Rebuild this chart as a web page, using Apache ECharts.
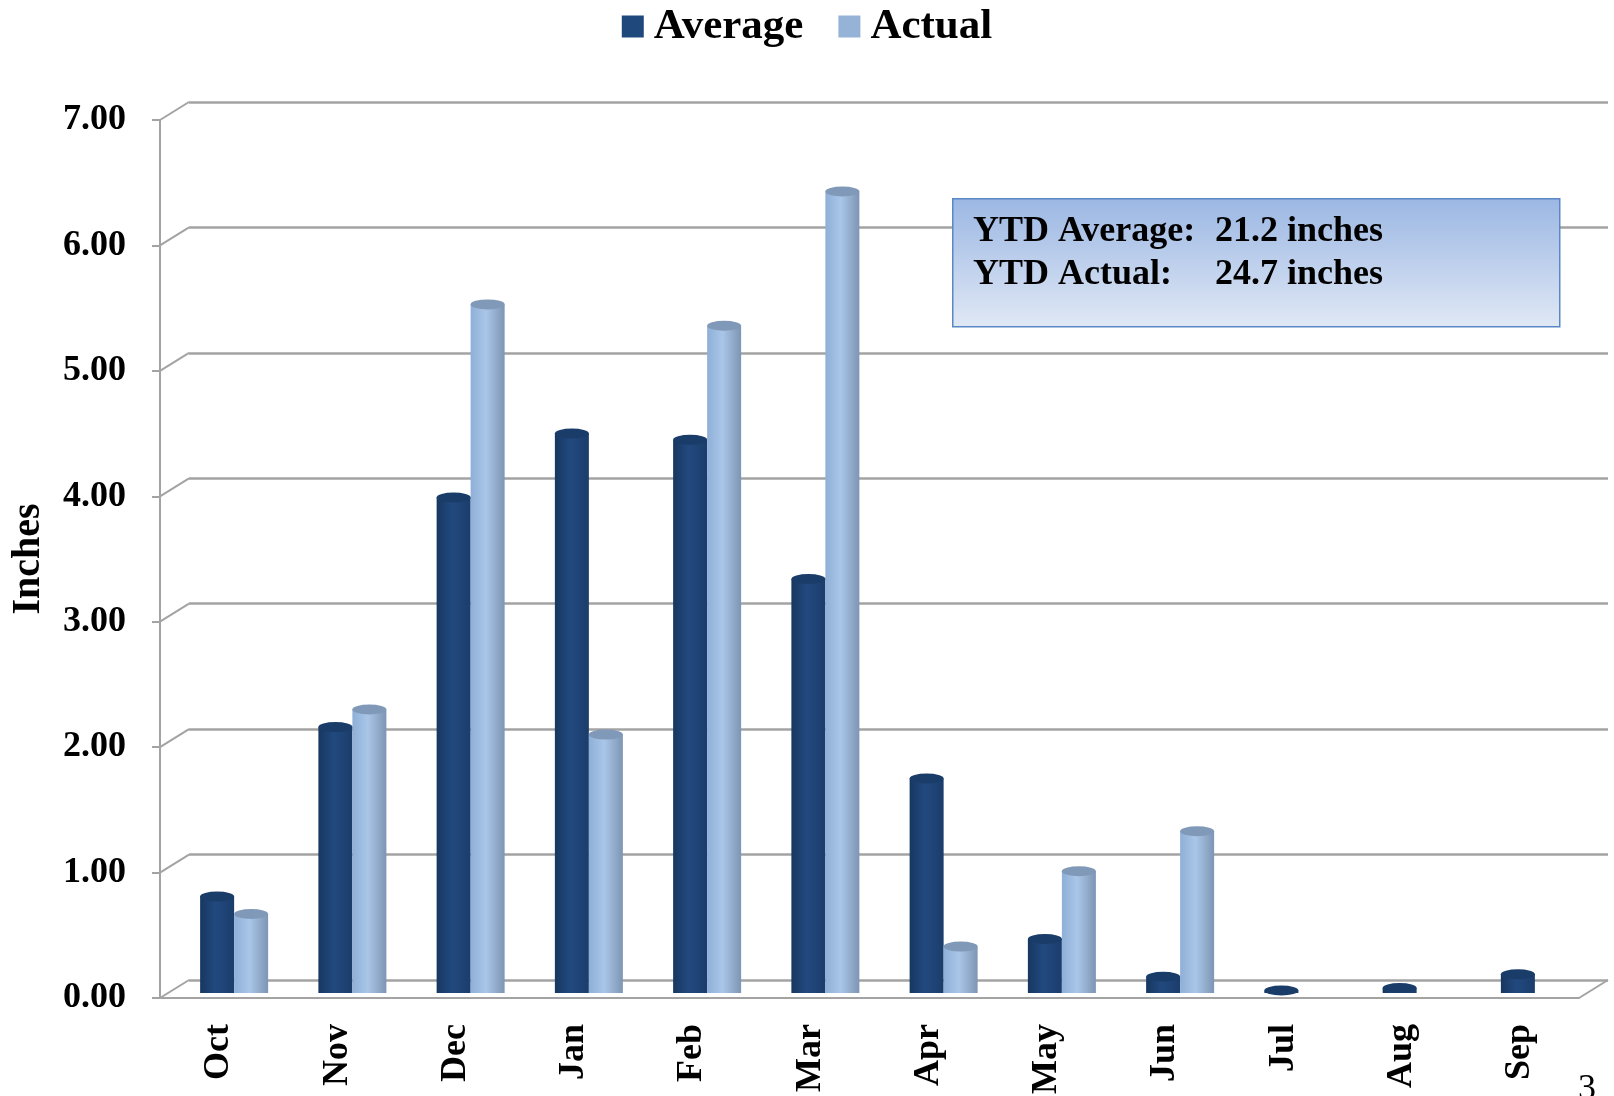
<!DOCTYPE html>
<html>
<head>
<meta charset="utf-8">
<title>Precipitation</title>
<script src="https://cdn.jsdelivr.net/npm/echarts@6/dist/echarts.min.js"></script>
<style>
  html, body { margin: 0; padding: 0; background: #fff; }
  #chart { width: 1614px; height: 1096px; }
</style>
</head>
<body>
<div id="chart"></div>
<script>
// data
var months = ["Oct", "Nov", "Dec", "Jan", "Feb", "Mar", "Apr", "May", "Jun", "Jul", "Aug", "Sep"];
var average = [0.77, 2.12, 3.95, 4.46, 4.41, 3.30, 1.71, 0.43, 0.13, 0.02, 0.04, 0.15];
var actual = [0.63, 2.26, 5.49, 2.06, 5.32, 6.39, 0.37, 0.97, 1.29, null, null, null];
var yTicks = [0, 1, 2, 3, 4, 5, 6, 7];

var SERIF = "'Liberation Serif', 'Times New Roman', serif";
var GRID_GRAY = "#a3a3a3";
// depth offset of the back wall
var DX = 29, DY = 18;

var chart = echarts.init(document.getElementById("chart"));

function barGrad(c1, c2, c3) {
  return new echarts.graphic.LinearGradient(0, 0, 1, 0, [
    { offset: 0, color: c1 },
    { offset: 0.45, color: c2 },
    { offset: 1, color: c3 }
  ]);
}

chart.setOption({
  animation: false,
  textStyle: { fontFamily: SERIF },
  legend: {
    top: 0,
    left: "center",
    itemWidth: 22,
    itemHeight: 22,
    itemGap: 35,
    icon: "rect",
    textStyle: { fontFamily: SERIF, fontWeight: "bold", fontSize: 43, color: "#000", padding: [0, 0, 0, 5] },
    data: [
      { name: "Average", itemStyle: { color: "#1f497d" } },
      { name: "Actual", itemStyle: { color: "#95b3d7" } }
    ]
  },
  grid: [
    // front (axes)
    { left: 160, right: 35, top: 120, bottom: 98, outerBoundsMode: "none" },
    // back wall (gridlines)
    { left: 160 + DX, right: 35 - DX, top: 120 - DY, bottom: 98 + DY, outerBoundsMode: "none" },
    // bars, sitting mid depth
    { left: 175, right: 20, top: 115, bottom: 103, outerBoundsMode: "none" }
  ],
  xAxis: [
    {
      gridIndex: 0,
      type: "category",
      data: months,
      axisLine: { lineStyle: { color: GRID_GRAY, width: 2 } },
      axisTick: { length: 12, lineStyle: { color: GRID_GRAY, width: 2 } },
      axisLabel: {
        rotate: 90,
        margin: 26,
        color: "#000",
        fontFamily: SERIF,
        fontWeight: "bold",
        fontSize: 36
      }
    },
    { gridIndex: 1, type: "value", min: 0, max: 1, show: false },
    { gridIndex: 2, type: "category", data: months, show: false }
  ],
  yAxis: [
    {
      gridIndex: 0,
      type: "value",
      min: 0,
      max: 7,
      interval: 1,
      name: "Inches",
      nameLocation: "middle",
      nameRotate: 90,
      nameGap: 111,
      nameTextStyle: { fontFamily: SERIF, fontWeight: "bold", fontSize: 40, color: "#000" },
      axisLine: { show: true, lineStyle: { color: GRID_GRAY, width: 2 } },
      axisTick: { show: true, length: 8, lineStyle: { color: GRID_GRAY, width: 2 } },
      splitLine: { show: false },
      axisLabel: {
        margin: 34,
        color: "#000",
        fontFamily: SERIF,
        fontWeight: "bold",
        fontSize: 36,
        formatter: function (v) { return v.toFixed(2); }
      }
    },
    {
      gridIndex: 1,
      type: "value",
      min: 0,
      max: 7,
      interval: 1,
      axisLine: { show: false },
      axisTick: { show: false },
      axisLabel: { show: false },
      splitLine: { show: true, lineStyle: { color: GRID_GRAY, width: 2.5 } }
    },
    { gridIndex: 2, type: "value", min: 0, max: 7, show: false }
  ],
  series: [
    {
      // diagonal edges joining the front axis to the back wall
      type: "custom",
      xAxisIndex: 1,
      yAxisIndex: 1,
      silent: true,
      clip: false,
      data: yTicks.map(function (v) { return [0, v]; }),
      renderItem: function (params, api) {
        var v = api.value(1);
        var p = api.coord([0, v]);
        var style = { stroke: GRID_GRAY, lineWidth: 2 };
        var kids = [{
          type: "line",
          shape: { x1: p[0] - DX, y1: p[1] + DY, x2: p[0], y2: p[1] },
          style: style
        }];
        if (v === 0) {
          var q = api.coord([1, 0]);
          kids.push({
            type: "line",
            shape: { x1: q[0] - DX, y1: q[1] + DY, x2: q[0], y2: q[1] },
            style: style
          });
        }
        return { type: "group", children: kids };
      }
    },
    {
      name: "Average",
      type: "bar",
      xAxisIndex: 2,
      yAxisIndex: 2,
      barWidth: 34,
      barGap: "0%",
      data: average,
      itemStyle: { color: barGrad("#163760", "#22497f", "#1b3d6b") }
    },
    {
      name: "Actual",
      type: "bar",
      xAxisIndex: 2,
      yAxisIndex: 2,
      barWidth: 34,
      barGap: "0%",
      data: actual,
      itemStyle: { color: barGrad("#8fafd7", "#a9c6e8", "#7e95b4") }
    },
    {
      name: "Average top",
      type: "pictorialBar",
      xAxisIndex: 2,
      yAxisIndex: 2,
      barWidth: 34,
      barGap: "0%",
      symbol: "circle",
      symbolSize: [34, 10],
      symbolPosition: "end",
      symbolOffset: [0, "-50%"],
      z: 3,
      data: average,
      itemStyle: { color: "#1a3c69" }
    },
    {
      name: "Actual top",
      type: "pictorialBar",
      xAxisIndex: 2,
      yAxisIndex: 2,
      barWidth: 34,
      barGap: "0%",
      symbol: "circle",
      symbolSize: [34, 10],
      symbolPosition: "end",
      symbolOffset: [0, "-50%"],
      z: 3,
      data: actual,
      itemStyle: { color: "#8199b8" }
    }
  ],
  graphic: [
    {
      type: "rect",
      left: 952,
      top: 198,
      z: 10,
      shape: { width: 607, height: 128 },
      style: {
        fill: new echarts.graphic.LinearGradient(0, 0, 0, 1, [
          { offset: 0, color: "#9bb7e3" },
          { offset: 1, color: "#e0e8f5" }
        ]),
        stroke: "#5a87c5",
        lineWidth: 1.5
      }
    },
    {
      type: "text",
      left: 973,
      top: 214,
      z: 11,
      style: {
        text: "{l|YTD Average:}{v|21.2 inches}\n{l|YTD Actual:}{v|24.7 inches}",
        rich: {
          l: { width: 242, fontFamily: SERIF, fontWeight: "bold", fontSize: 36, lineHeight: 43, fill: "#000" },
          v: { fontFamily: SERIF, fontWeight: "bold", fontSize: 36, lineHeight: 43, fill: "#000" }
        }
      }
    },
    {
      type: "text",
      left: 1578,
      top: 1072,
      style: { text: "3", fontFamily: SERIF, fontSize: 36, fill: "#000" }
    }
  ]
});
</script>
</body>
</html>
